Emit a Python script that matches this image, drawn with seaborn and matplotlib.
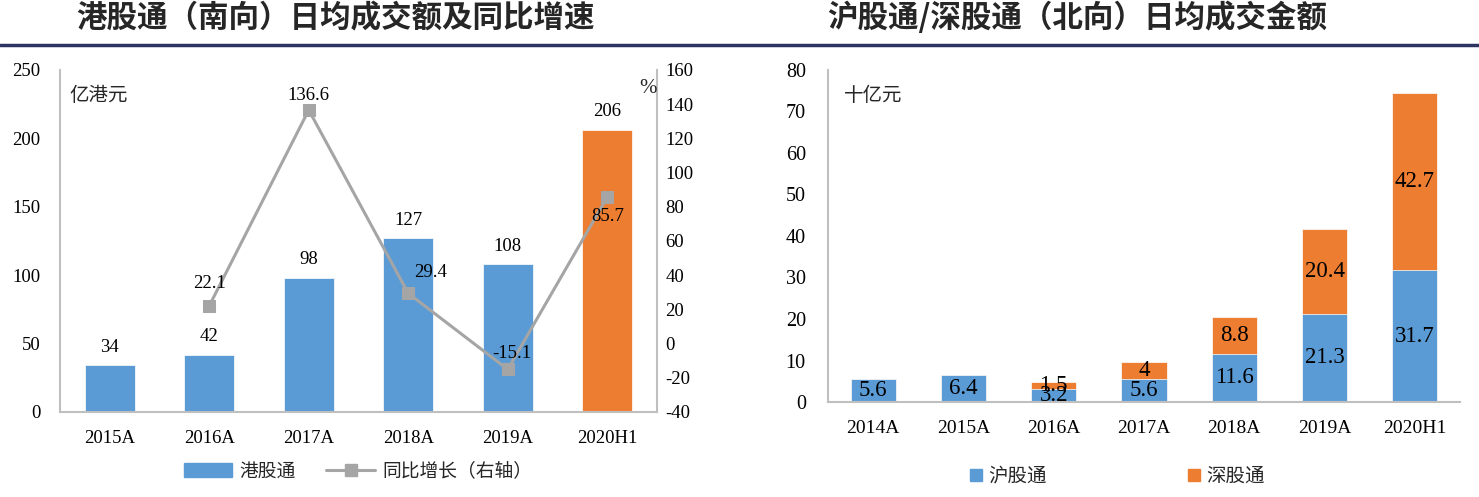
import matplotlib
matplotlib.use("Agg")
import matplotlib.pyplot as plt
from matplotlib.lines import Line2D
from matplotlib.patches import Patch
import seaborn as sns
import pandas as pd
import numpy as np

sns.set_theme(style="white")
plt.rcParams['font.family'] = ['Liberation Serif', 'Noto Sans CJK SC', 'DejaVu Sans']
plt.rcParams['axes.unicode_minus'] = False

# ---------------- data ----------------
left_title = "港股通（南向）日均成交额及同比增速"
right_title = "沪股通/深股通（北向）日均成交金额"

south_years = ["2015A", "2016A", "2017A", "2018A", "2019A", "2020H1"]
south_amount = [34, 42, 98, 127, 108, 206]
growth_years = ["2016A", "2017A", "2018A", "2019A", "2020H1"]
growth_values = [22.1, 136.6, 29.4, -15.1, 85.7]

north_years = ["2014A", "2015A", "2016A", "2017A", "2018A", "2019A", "2020H1"]
sh_values = [5.6, 6.4, 3.2, 5.6, 11.6, 21.3, 31.7]
sz_values = [0, 0, 1.5, 4, 8.8, 20.4, 42.7]

left_yticks = [0, 50, 100, 150, 200, 250]
right2_yticks = [-40, -20, 0, 20, 40, 60, 80, 100, 120, 140, 160]
north_yticks = [0, 10, 20, 30, 40, 50, 60, 70, 80]

BLUE = "#5B9BD5"
ORANGE = "#ED7D31"
GRAY = "#A5A5A5"
SPINE = "#BFBFBF"
NAVY = "#2E3462"
CJK = ['Noto Sans CJK SC', 'DejaVu Sans']

W, H = 1479, 497
fig = plt.figure(figsize=(W / 100, H / 100), dpi=100)

def fx(px):
    return px / W

def fy(py):
    return 1 - py / H

# header
fig.text(fx(335), fy(18), left_title, ha="center", va="center",
         fontsize=22, fontweight="bold", family=CJK)
fig.text(fx(1077), fy(18), right_title, ha="center", va="center",
         fontsize=22, fontweight="bold", family=CJK)
fig.add_artist(Line2D([0, 1], [fy(45), fy(45)], transform=fig.transFigure,
                      color=NAVY, linewidth=2.5))

# ---------------- left chart ----------------
axL = fig.add_axes([fx(60), fy(412), fx(657) - fx(60), fy(70) - fy(412)])
dfL = pd.DataFrame({"year": south_years, "amount": south_amount,
                    "kind": ["港股通"] * (len(south_years) - 1) + ["H1"]})
sns.barplot(data=dfL, x="year", y="amount", hue="kind",
            palette={"港股通": BLUE, "H1": ORANGE}, width=0.5,
            edgecolor="white", linewidth=0.5, legend=False, ax=axL, saturation=1)
axL.set_ylim(0, 250)
axL.set_xlim(-0.5, len(south_years) - 0.5)
axL.set_yticks(left_yticks)
axL.set_xlabel("")
axL.set_ylabel("")
for i, v in enumerate(south_amount):
    axL.annotate(f"{v}", (i, v), xytext=(0, 7), textcoords="offset points",
                 ha="center", va="bottom", fontsize=13.5, color="black")
axL.text(0.015, 0.955, "亿港元", transform=axL.transAxes, ha="left", va="top",
         fontsize=14, family=CJK)

axR = axL.twinx()
gx = [south_years.index(y) for y in growth_years]
dfG = pd.DataFrame({"pos": gx, "growth": growth_values})
sns.lineplot(data=dfG, x="pos", y="growth", color=GRAY, linewidth=2.2,
             marker="s", markersize=9, markeredgecolor=GRAY, ax=axR)
axR.set_ylim(-40, 160)
axR.set_yticks(right2_yticks)
axR.set_xlim(-0.5, len(south_years) - 0.5)
axR.set_xlabel("")
axR.set_ylabel("")
offsets = {"2016A": (0, 10, "bottom"), "2017A": (0, 4, "bottom"),
           "2018A": (16, 9, "bottom"), "2019A": (3, 5, "bottom"),
           "2020H1": (0, -8, "top")}
for yr, x, v in zip(growth_years, gx, growth_values):
    dx, dy, va = offsets[yr]
    axR.annotate(f"{v}", (x, v), xytext=(dx, dy), textcoords="offset points",
                 ha="center", va=va, fontsize=13.5, color="black")
axR.text(0.999, 0.975, "%", transform=axR.transAxes, ha="right", va="top", fontsize=15)

for ax in (axL, axR):
    for s in ax.spines.values():
        s.set_visible(False)
    ax.tick_params(length=0, labelsize=13.5, colors="black")
axL.spines["left"].set_visible(True)
axL.spines["bottom"].set_visible(True)
axR.spines["right"].set_visible(True)
for s in ("left", "bottom"):
    axL.spines[s].set_color(SPINE)
    axL.spines[s].set_linewidth(1.5)
axR.spines["right"].set_color(SPINE)
axR.spines["right"].set_linewidth(1.5)
axL.tick_params(axis="y", pad=14)
axL.tick_params(axis="x", pad=13)
axR.tick_params(axis="y", pad=6)

handlesL = [Patch(facecolor=BLUE, edgecolor=BLUE),
            Line2D([], [], color=GRAY, linewidth=2.2, marker="s", markersize=8)]
fig.legend(handlesL, ["港股通", "同比增长（右轴）"], loc="center",
           bbox_to_anchor=(fx(358), fy(471)), ncol=2, frameon=False,
           prop={"family": CJK, "size": 13.5},
           handlelength=2.6, handletextpad=0.4, columnspacing=1.6)

# ---------------- right chart ----------------
axN = fig.add_axes([fx(828), fy(402), fx(1460) - fx(828), fy(70) - fy(402)])
totals = [a + b for a, b in zip(sh_values, sz_values)]
dfN = pd.DataFrame({"year": north_years, "sh": sh_values, "total": totals})
sns.barplot(data=dfN, x="year", y="total", color=ORANGE, width=0.5,
            edgecolor="white", linewidth=0.5, ax=axN, saturation=1)
sns.barplot(data=dfN, x="year", y="sh", color=BLUE, width=0.5,
            edgecolor="white", linewidth=0.5, ax=axN, saturation=1)
axN.set_ylim(0, 80)
axN.set_xlim(-0.5, len(north_years) - 0.5)
axN.set_yticks(north_yticks)
axN.set_xlabel("")
axN.set_ylabel("")
for i, (a, b) in enumerate(zip(sh_values, sz_values)):
    axN.text(i, a / 2, f"{a}", ha="center", va="center", fontsize=16.5, color="black")
    if b > 0:
        axN.text(i, a + b / 2, f"{b:g}", ha="center", va="center", fontsize=16.5, color="black")
axN.text(0.025, 0.955, "十亿元", transform=axN.transAxes, ha="left", va="top",
         fontsize=14, family=CJK)
for s in axN.spines.values():
    s.set_visible(False)
for s in ("left", "bottom"):
    axN.spines[s].set_visible(True)
    axN.spines[s].set_color(SPINE)
    axN.spines[s].set_linewidth(1.5)
axN.tick_params(length=0, labelsize=14, colors="black")
axN.tick_params(axis="y", pad=16, labelsize=14.5)
axN.tick_params(axis="x", pad=13)

handlesN = [Line2D([], [], linestyle="none", marker="s", markersize=9,
                   markerfacecolor=BLUE, markeredgecolor=BLUE),
            Line2D([], [], linestyle="none", marker="s", markersize=9,
                   markerfacecolor=ORANGE, markeredgecolor=ORANGE)]
fig.legend(handlesN, ["沪股通", "深股通"], loc="center",
           bbox_to_anchor=(fx(1117), fy(476)), ncol=2, frameon=False,
           prop={"family": CJK, "size": 14},
           handlelength=0.7, handletextpad=0.3, columnspacing=7.2)

fig.savefig("out.png", dpi=100, facecolor="white")
